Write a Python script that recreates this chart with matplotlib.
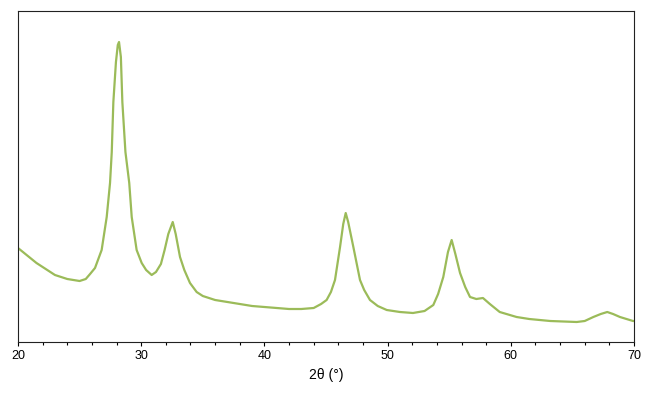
import matplotlib
matplotlib.use("Agg")
import matplotlib.pyplot as plt
from matplotlib.ticker import MultipleLocator

plt.rcParams['font.family'] = ['Liberation Sans', 'DejaVu Sans']

# valeurs (intensite en unites arbitraires)
two_theta = [20.0, 20.5, 21.0, 21.5, 22.0, 22.5, 23.0, 23.5, 24.0, 24.5,
             25.0, 25.5, 25.85, 26.25, 26.79, 27.2, 27.47, 27.61, 27.74, 27.95,
             28.1, 28.2, 28.35, 28.47, 28.72, 29.03, 29.23, 29.63, 30.04, 30.4,
             30.85, 31.2, 31.6, 31.9, 32.2, 32.56, 32.8, 33.15, 33.5, 33.96,
             34.5, 35.0, 36.0, 37.0, 38.0, 39.0, 40.0, 41.0, 42.0, 43.0,
             44.0, 44.6, 45.05, 45.4, 45.73, 46.14, 46.4, 46.6, 46.8, 47.22,
             47.76, 48.1, 48.57, 49.2, 49.93, 51.0, 52.06, 53.0, 53.71, 54.1,
             54.52, 54.9, 55.2, 55.5, 55.88, 56.3, 56.69, 57.2, 57.74, 58.3,
             59.1, 60.47, 61.5, 63.2, 65.35, 66.0, 66.7, 67.3, 67.83, 68.3,
             68.86, 69.92, 70.0]
intensity = [94, 89, 84, 79, 75, 71, 67, 65, 63, 62,
             61, 63, 68, 74, 92, 125, 159, 190, 240, 280,
             297, 300, 285, 240, 190, 159, 125, 92, 79, 72,
             67, 70, 78, 92, 108, 120, 108, 85, 72, 59,
             50, 46, 42, 40, 38, 36, 35, 34, 33, 33,
             34, 38, 42, 50, 62, 95, 118, 129, 120, 95,
             62, 52, 42, 36, 32, 30, 29, 31, 37, 48,
             65, 90, 102, 88, 69, 55, 45, 43, 44, 38,
             30, 25, 23, 21, 20, 21, 25, 28, 30, 28,
             25, 21, 21]

fig = plt.figure(figsize=(6.53, 3.99), dpi=100)
ax = fig.add_axes([18/653, 1-342/399, 616/653, 331/399])
ax.plot(two_theta, intensity, color='#9bbb59', lw=1.6)

ax.set_xlim(20, 70)
ax.set_ylim(0, 331)
ax.xaxis.set_major_locator(MultipleLocator(10))
ax.xaxis.set_minor_locator(MultipleLocator(2))
ax.tick_params(axis='x', which='major', direction='out', length=3, width=0.8, labelsize=9, pad=3)
ax.tick_params(axis='x', which='minor', direction='out', length=2.5, width=0.8)
ax.set_yticks([])
for s in ax.spines.values():
    s.set_color('#222222')
    s.set_linewidth(0.8)
ax.set_xlabel("2θ (°)", fontsize=10, labelpad=4)

fig.savefig("out.png", dpi=100)
